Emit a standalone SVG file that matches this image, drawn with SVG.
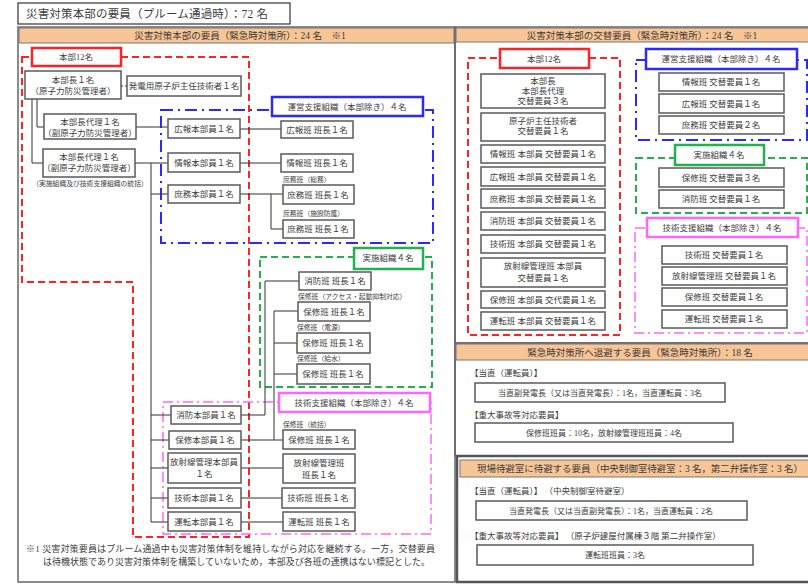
<svg xmlns="http://www.w3.org/2000/svg" width="808" height="585" viewBox="0 0 808 585">
<style>
text{font-family:"Liberation Serif","Noto Sans CJK JP",serif;fill:#3c3c3c;font-size:8.5px}
.c{text-anchor:middle}
.s{font-size:6.8px}
.h{font-size:9.5px}
.b{fill:#fff;stroke:#5a5a5a;stroke-width:1.5}
.ln{fill:none;stroke:#333;stroke-width:1}
.red{fill:none;stroke:#ff2222;stroke-width:2;stroke-dasharray:7 4}
.blu{fill:none;stroke:#2a2aff;stroke-width:2;stroke-dasharray:12 5 2 5}
.grn{fill:none;stroke:#22b050;stroke-width:2;stroke-dasharray:7 4}
.mag{fill:none;stroke:#ff66ff;stroke-width:1.5;stroke-dasharray:10 4 2 4}
.lr{fill:#fff;stroke:#ff2222;stroke-width:2.5}
.lb{fill:#fff;stroke:#2a2aff;stroke-width:2.5}
.lg{fill:#fff;stroke:#22b050;stroke-width:2.5}
.lm{fill:#fff;stroke:#ff66ff;stroke-width:2.5}
.hd{fill:#f8c596;stroke:#777;stroke-width:1}
.fr{fill:none;stroke:#666;stroke-width:1.5}
</style>
<rect width="808" height="585" fill="#fff"/>
<!-- title -->
<g id="title">
<rect x="18" y="3" width="272" height="21" fill="#fff" stroke="#333" stroke-width="1.2"/>
<text x="26" y="18" style="font-size:11.5px" textLength="242">災害対策本部の要員（プルーム通過時）：72 名</text>
</g>
<!-- frames -->
<g id="frames">
<rect class="fr" x="18" y="27" width="437" height="555"/>
<rect class="hd" x="19" y="28" width="435" height="15"/>
<text class="h c" x="240" y="39">災害対策本部の要員（緊急時対策所）：24 名　※1</text>
<rect class="fr" x="455" y="27" width="360" height="316"/>
<rect class="hd" x="456" y="28" width="358" height="14"/>
<text class="h c" x="642" y="39">災害対策本部の交替要員（緊急時対策所）：24 名　※1</text>
<rect class="fr" x="455" y="343" width="360" height="113"/>
<rect class="hd" x="456" y="344" width="358" height="16"/>
<text class="h c" x="640" y="356">緊急時対策所へ退避する要員（緊急時対策所）：18 名</text>
<rect x="457" y="456" width="358" height="126" fill="none" stroke="#555" stroke-width="2.5"/>
<rect class="hd" x="460" y="460" width="352" height="17"/>
<text class="h" x="477" y="472" textLength="326">現場待避室に待避する要員（中央制御室待避室：3 名，第二弁操作室：3 名）</text>
</g>
<!-- group regions -->
<g id="regions">
<path class="red" d="M22 57 H249 V537 H133 V282 H22 Z"/>
<rect class="blu" x="161" y="110" width="272" height="133"/>
<rect class="grn" x="260" y="257" width="172" height="130"/>
<rect class="mag" x="163" y="402" width="268" height="132"/>
<rect class="red" x="468" y="58" width="152" height="277"/>
<rect class="blu" x="636" y="60" width="171" height="80"/>
<rect class="grn" x="636" y="158" width="171" height="55"/>
<rect class="mag" x="635" y="228" width="172" height="105"/>
</g>
<!-- connectors -->
<g id="connectors">
<path class="ln" d="M121 86 H127" stroke-dasharray="2 2"/>
<path class="ln" d="M32 99 V163 H43"/>
<path class="ln" d="M37 99 V127 H44"/>
<path class="ln" d="M136 127 H168"/>
<path class="ln" d="M135 163 H168"/>
<path class="ln" d="M151 163 V522"/>
<path class="ln" d="M151 194 H168 M151 415 H171 M151 440 H169 M151 468 H168 M151 498 H168 M151 522 H168"/>
<path class="ln" d="M240 129 H281 M240 163 H281 M240 194 H283 M271 194 V229 H283"/>
<path class="ln" d="M241 415 H265 V281 H299"/>
<path class="ln" d="M241 440 H283 M274 440 V311 H298 M274 343 H297 M274 374 H297"/>
<path class="ln" d="M241 468 H283 M241 498 H282 M241 522 H283"/>
</g>
<!-- left labels -->
<g id="lbl-honbu"><rect class="lr" x="32" y="48" width="89" height="18"/><text class="c" x="76" y="60">本部12名</text></g>
<g id="lbl-unei"><rect class="lb" x="272" y="97" width="151" height="19"/><text class="c" x="347" y="110">運営支援組織（本部除き）４名</text></g>
<g id="lbl-jisshi"><rect class="lg" x="354" y="248" width="69" height="21"/><text class="c" x="388" y="261">実施組織４名</text></g>
<g id="lbl-gijutsu"><rect class="lm" x="279" y="393" width="151" height="19"/><text class="c" x="354" y="406">技術支援組織（本部除き）４名</text></g>
<!-- left nodes -->
<g id="honbucho"><rect class="b" x="25" y="71" width="96" height="28"/><text class="c" x="73" y="83">本部長１名</text><text class="c" x="73" y="94">（原子力防災管理者）</text></g>
<g id="shunin"><rect class="b" x="127" y="76" width="114" height="20"/><text class="c" x="184" y="89">発電用原子炉主任技術者１名</text></g>
<g id="dairi1"><rect class="b" x="44" y="114" width="92" height="25"/><text class="c" x="90" y="125">本部長代理１名</text><text class="c" x="90" y="136">（副原子力防災管理者）</text></g>
<g id="dairi2"><rect class="b" x="43" y="149" width="92" height="28"/><text class="c" x="89" y="160">本部長代理１名</text><text class="c" x="89" y="171">（副原子力防災管理者）</text></g>
<text class="s c" x="90" y="186">（実施組織及び技術支援組織の統括）</text>
<g id="kouho-h"><rect class="b" x="168" y="119" width="72" height="19"/><text class="c" x="204" y="132">広報本部員１名</text></g>
<g id="joho-h"><rect class="b" x="168" y="153" width="72" height="19"/><text class="c" x="204" y="166">情報本部員１名</text></g>
<g id="shomu-h"><rect class="b" x="168" y="185" width="72" height="18"/><text class="c" x="204" y="197">庶務本部員１名</text></g>
<g id="kouho-p"><rect class="b" x="281" y="121" width="72" height="17"/><text class="c" x="317" y="133">広報班 班長１名</text></g>
<g id="joho-p"><rect class="b" x="281" y="154" width="72" height="18"/><text class="c" x="317" y="166">情報班 班長１名</text></g>
<text class="s" x="283" y="182">庶務班（総務）</text>
<g id="shomu-p1"><rect class="b" x="283" y="185" width="71" height="19"/><text class="c" x="318" y="198">庶務班 班長１名</text></g>
<text class="s" x="283" y="216">庶務班（施設防護）</text>
<g id="shomu-p2"><rect class="b" x="283" y="220" width="71" height="18"/><text class="c" x="318" y="232">庶務班 班長１名</text></g>
<g id="shobo-p"><rect class="b" x="299" y="272" width="72" height="18"/><text class="c" x="335" y="284">消防班 班長１名</text></g>
<text class="s" x="298" y="299">保修班（アクセス・起動抑制対応）</text>
<g id="hoshu-p1"><rect class="b" x="298" y="302" width="72" height="19"/><text class="c" x="334" y="315">保修班 班長１名</text></g>
<text class="s" x="297" y="330">保修班（電源）</text>
<g id="hoshu-p2"><rect class="b" x="297" y="333" width="73" height="20"/><text class="c" x="333" y="346">保修班 班長１名</text></g>
<text class="s" x="297" y="361">保修班（給水）</text>
<g id="hoshu-p3"><rect class="b" x="297" y="364" width="73" height="20"/><text class="c" x="333" y="377">保修班 班長１名</text></g>
<g id="shobo-h"><rect class="b" x="171" y="406" width="70" height="18"/><text class="c" x="206" y="418">消防本部員１名</text></g>
<g id="hoshu-h"><rect class="b" x="169" y="431" width="72" height="18"/><text class="c" x="205" y="443">保修本部員１名</text></g>
<g id="hoshasen-h"><rect class="b" x="168" y="453" width="73" height="30"/><text class="c" x="204" y="465">放射線管理本部員</text><text class="c" x="204" y="477">１名</text></g>
<g id="gijutsu-h"><rect class="b" x="168" y="488" width="73" height="20"/><text class="c" x="204" y="501">技術本部員１名</text></g>
<g id="unten-h"><rect class="b" x="168" y="512" width="73" height="19"/><text class="c" x="204" y="525">運転本部員１名</text></g>
<text class="s" x="283" y="427">保修班（統括）</text>
<g id="hoshu-p4"><rect class="b" x="283" y="430" width="72" height="19"/><text class="c" x="319" y="443">保修班 班長１名</text></g>
<g id="hoshasen-p"><rect class="b" x="283" y="454" width="72" height="29"/><text class="c" x="319" y="466">放射線管理班</text><text class="c" x="319" y="478">班長１名</text></g>
<g id="gijutsu-p"><rect class="b" x="282" y="488" width="73" height="20"/><text class="c" x="318" y="501">技術班 班長１名</text></g>
<g id="unten-p"><rect class="b" x="283" y="512" width="72" height="19"/><text class="c" x="319" y="525">運転班 班長１名</text></g>
<!-- footnote -->
<text x="26" y="552" style="font-size:9px" textLength="409">※1 災害対策要員はプルーム通過中も災害対策体制を維持しながら対応を継続する。一方，交替要員</text>
<text x="43" y="565" style="font-size:9px" textLength="387">は待機状態であり災害対策体制を構築していないため，本部及び各班の連携はない標記とした。</text>
<!-- right top -->
<g id="r-lbl-honbu"><rect class="lr" x="500" y="49" width="89" height="19"/><text class="c" x="544" y="62">本部12名</text></g>
<g id="r-lbl-unei"><rect class="lb" x="646" y="49" width="151" height="20"/><text class="c" x="721" y="62">運営支援組織（本部除き）４名</text></g>
<g id="r-lbl-jisshi"><rect class="lg" x="675" y="145" width="89" height="20"/><text class="c" x="719" y="158">実施組織４名</text></g>
<g id="r-lbl-gijutsu"><rect class="lm" x="647" y="218" width="151" height="19"/><text class="c" x="722" y="231">技術支援組織（本部除き）４名</text></g>
<g id="r-honbucho"><rect class="b" x="481" y="74" width="124" height="34"/><text class="c" x="543" y="84">本部長</text><text class="c" x="543" y="94">本部長代理</text><text class="c" x="543" y="104">交替要員３名</text></g>
<g id="r-shunin"><rect class="b" x="481" y="113" width="124" height="28"/><text class="c" x="543" y="124">原子炉主任技術者</text><text class="c" x="543" y="134">交替要員１名</text></g>
<g id="r-joho"><rect class="b" x="481" y="145" width="124" height="18"/><text class="c" x="543" y="157">情報班 本部員 交替要員１名</text></g>
<g id="r-kouho"><rect class="b" x="481" y="167" width="124" height="19"/><text class="c" x="543" y="180">広報班 本部員 交替要員１名</text></g>
<g id="r-shomu"><rect class="b" x="481" y="189" width="124" height="19"/><text class="c" x="543" y="202">庶務班 本部員 交替要員１名</text></g>
<g id="r-shobo"><rect class="b" x="481" y="212" width="124" height="18"/><text class="c" x="543" y="224">消防班 本部員 交替要員１名</text></g>
<g id="r-gijutsu"><rect class="b" x="481" y="235" width="124" height="18"/><text class="c" x="543" y="247">技術班 本部員 交替要員１名</text></g>
<g id="r-hoshasen"><rect class="b" x="481" y="258" width="124" height="29"/><text class="c" x="543" y="269">放射線管理班 本部員</text><text class="c" x="543" y="281">交替要員１名</text></g>
<g id="r-hoshu"><rect class="b" x="481" y="291" width="124" height="17"/><text class="c" x="543" y="303">保修班 本部員 交代要員１名</text></g>
<g id="r-unten"><rect class="b" x="481" y="312" width="124" height="18"/><text class="c" x="543" y="324">運転班 本部員 交替要員１名</text></g>
<g id="r-joho2"><rect class="b" x="659" y="73" width="125" height="18"/><text class="c" x="721" y="85">情報班 交替要員１名</text></g>
<g id="r-kouho2"><rect class="b" x="659" y="94" width="125" height="19"/><text class="c" x="721" y="107">広報班 交替要員１名</text></g>
<g id="r-shomu2"><rect class="b" x="659" y="116" width="125" height="18"/><text class="c" x="721" y="128">庶務班 交替要員２名</text></g>
<g id="r-hoshu2"><rect class="b" x="659" y="168" width="125" height="19"/><text class="c" x="721" y="181">保修班 交替要員３名</text></g>
<g id="r-shobo2"><rect class="b" x="659" y="190" width="125" height="18"/><text class="c" x="721" y="202">消防班 交替要員１名</text></g>
<g id="r-gijutsu2"><rect class="b" x="662" y="246" width="125" height="18"/><text class="c" x="724" y="258">技術班 交替要員１名</text></g>
<g id="r-hoshasen2"><rect class="b" x="662" y="267" width="125" height="18"/><text class="c" x="724" y="279">放射線管理班 交替要員１名</text></g>
<g id="r-hoshu3"><rect class="b" x="662" y="288" width="125" height="18"/><text class="c" x="724" y="300">保修班 交替要員１名</text></g>
<g id="r-unten2"><rect class="b" x="662" y="310" width="125" height="18"/><text class="c" x="724" y="322">運転班 交替要員１名</text></g>
<!-- section 2 -->
<text x="470" y="376">【当直（運転員）】</text>
<g id="s2-tochoku"><rect class="b" x="475" y="383" width="250" height="19"/><text class="c" x="600" y="396" style="font-size:8px">当直副発電長（又は当直発電長）：1名，当直運転員：3名</text></g>
<text x="470" y="418">【重大事故等対応要員】</text>
<g id="s2-jiko"><rect class="b" x="475" y="423" width="258" height="19"/><text class="c" x="604" y="436" style="font-size:8px">保修班班員：10名，放射線管理班班員：4名</text></g>
<!-- section 3 -->
<text x="470" y="494">【当直（運転員）】 （中央制御室待避室）</text>
<g id="s3-tochoku"><rect class="b" x="476" y="501" width="271" height="19"/><text class="c" x="611" y="514" style="font-size:8px">当直発電長（又は当直副発電長）：1名，当直運転員：2名</text></g>
<text x="470" y="539">【重大事故等対応要員】 （原子炉建屋付属棟３階 第二弁操作室）</text>
<g id="s3-jiko"><rect class="b" x="477" y="545" width="276" height="20"/><text class="c" x="615" y="558" style="font-size:8px">運転班班員：3名</text></g>
</svg>
